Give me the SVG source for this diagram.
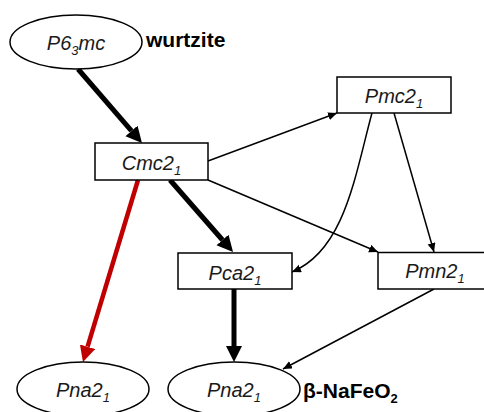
<svg xmlns="http://www.w3.org/2000/svg" width="484" height="412" viewBox="0 0 484 412">
<style>
.shape{fill:#fff;stroke:#000;stroke-width:1.5}
.lbl{font-family:"Liberation Sans",Arial,sans-serif;font-style:italic;font-size:20px;fill:#1a1a1a;text-anchor:middle}
.note{font-family:"Liberation Sans",Arial,sans-serif;font-weight:bold;font-size:21px;fill:#000}
.sub{font-size:13px}
.thin{fill:none;stroke:#000;stroke-width:1.5;marker-end:url(#ah)}
.thick{fill:none;stroke:#000;stroke-width:5;marker-end:url(#ahk)}
.red{fill:none;stroke:#C00000;stroke-width:4.5;marker-end:url(#ahr)}
</style>
<defs>
<marker id="ah" markerUnits="userSpaceOnUse" markerWidth="10" markerHeight="10" refX="9" refY="4" orient="auto"><path d="M0,0 L9,4 L0,8 z" fill="#000"/></marker>
<marker id="ahk" markerUnits="userSpaceOnUse" markerWidth="18" markerHeight="18" refX="0" refY="8" orient="auto"><path d="M0,0 L16,8 L0,16 z" fill="#000"/></marker>
<marker id="ahr" markerUnits="userSpaceOnUse" markerWidth="18" markerHeight="18" refX="0" refY="8" orient="auto"><path d="M0,0 L16,8 L0,16 z" fill="#C00000"/></marker>
</defs>
<g id="connectors">
<line class="thick" x1="78" y1="69" x2="131.5" y2="130.9"/>
<line class="thin" x1="208" y1="161" x2="337" y2="113"/>
<line class="thin" x1="208" y1="180" x2="378" y2="252"/>
<line class="thick" x1="170" y1="180" x2="222.5" y2="240"/>
<line class="red" x1="138" y1="180" x2="87.6" y2="346.7"/>
<path class="thin" d="M372,113 C355,175 345,250 292,272"/>
<line class="thin" x1="394" y1="113" x2="434" y2="252"/>
<line class="thick" x1="234" y1="289" x2="234" y2="346"/>
<line class="thin" x1="434" y1="289" x2="283" y2="369"/>
</g>
<g id="n-p63mc">
<ellipse class="shape" cx="76" cy="42" rx="66" ry="27"/>
<text class="lbl" x="76" y="50">P6<tspan class="sub" dy="5">3</tspan><tspan dy="-5">mc</tspan></text>
<text class="note" x="146" y="47">wurtzite</text>
</g>
<g id="n-cmc21">
<rect class="shape" x="95" y="143" width="113" height="37"/>
<text class="lbl" x="151.5" y="170">Cmc2<tspan class="sub" dy="5">1</tspan></text>
</g>
<g id="n-pmc21">
<rect class="shape" x="337" y="77" width="114" height="36"/>
<text class="lbl" x="394" y="103">Pmc2<tspan class="sub" dy="5">1</tspan></text>
</g>
<g id="n-pca21">
<rect class="shape" x="178" y="253" width="114" height="36"/>
<text class="lbl" x="235" y="280">Pca2<tspan class="sub" dy="5">1</tspan></text>
</g>
<g id="n-pmn21">
<rect class="shape" x="378" y="252.5" width="114" height="36.5"/>
<text class="lbl" x="435" y="278">Pmn2<tspan class="sub" dy="5">1</tspan></text>
</g>
<g id="n-pna21-left">
<ellipse class="shape" cx="83" cy="389" rx="66" ry="27"/>
<text class="lbl" x="83" y="397">Pna2<tspan class="sub" dy="5">1</tspan></text>
</g>
<g id="n-pna21-right">
<ellipse class="shape" cx="234" cy="389" rx="66" ry="27"/>
<text class="lbl" x="234" y="397">Pna2<tspan class="sub" dy="5">1</tspan></text>
<text class="note" x="303" y="398">β-NaFeO<tspan class="sub" font-size="14px" dy="5">2</tspan></text>
</g>
</svg>
